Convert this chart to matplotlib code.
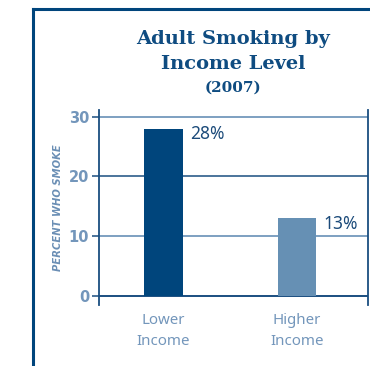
import matplotlib
matplotlib.use("Agg")
import matplotlib.pyplot as plt
from matplotlib.lines import Line2D

groups = ["Lower\nIncome", "Higher\nIncome"]
smokers = [28, 13]
value_labels = ["28%", "13%"]
yticks = [0, 10, 20, 30]

navy = "#00457c"
steel = "#6690b4"
tick_blue = "#7396bb"
grid_dark = "#1a4e80"
grid_light = "#5a86b0"
sans = "Noto Sans"

fig = plt.figure(figsize=(3.70, 3.66), dpi=100)

# frame around the panel (left and top edges)
fig.add_artist(Line2D([33 / 370, 33 / 370], [0, 1 - 9 / 366], color=navy, lw=2.2))
fig.add_artist(Line2D([33 / 370, 1], [1 - 9 / 366, 1 - 9 / 366], color=navy, lw=2.2))

fig.text(233 / 370, 1 - 39 / 366, "Adult Smoking by", ha="center", va="center",
         fontsize=14, fontweight="bold", family="DejaVu Serif", color="#0f4c81")
fig.text(233 / 370, 1 - 64 / 366, "Income Level", ha="center", va="center",
         fontsize=14, fontweight="bold", family="DejaVu Serif", color="#0f4c81")
fig.text(233 / 370, 1 - 88 / 366, "(2007)", ha="center", va="center",
         fontsize=11, fontweight="bold", family="DejaVu Serif", color="#0f4c81")

ax = fig.add_axes([99 / 370, 1 - 305 / 366, 269 / 370, 195 / 366])
x = list(range(len(groups)))
ax.bar(x, smokers, width=0.29, color=[navy, steel], zorder=3)

for i, (v, lab) in enumerate(zip(smokers, value_labels)):
    ax.text(i + 0.2, v - 0.9, lab, ha="left", va="center", fontsize=12.5,
            family=sans, color="#1c4b7a")

for t in yticks:
    c = grid_dark if t in (0, 20) else grid_light
    ax.axhline(t, color=c, lw=1.4 if t == 0 else 1.1, zorder=2)

ax.set_xlim(-0.483, 1.532)
ax.set_ylim(-1.5, 31.1)
ax.set_yticks(yticks)
ax.set_yticklabels([str(t) for t in yticks], fontsize=10.5, fontweight="bold",
                   family="DejaVu Sans", color=tick_blue)
ax.set_xticks(x)
ax.set_xticklabels(groups, fontsize=10.8, family=sans, color=tick_blue,
                   linespacing=1.5)
ax.tick_params(axis="y", length=5, width=1.1, color=grid_dark, pad=2)
ax.tick_params(axis="x", length=0, pad=6)

for side in ("top", "bottom"):
    ax.spines[side].set_visible(False)
ax.spines["left"].set_color(grid_dark)
ax.spines["left"].set_linewidth(1.3)
ax.spines["right"].set_color(grid_dark)
ax.spines["right"].set_linewidth(1.3)

ax.set_ylabel("PERCENT WHO SMOKE", fontsize=7.2, fontweight="bold", style="italic",
              family="DejaVu Sans", color="#6b8fb5", labelpad=4)

fig.savefig("out.png", dpi=100)
